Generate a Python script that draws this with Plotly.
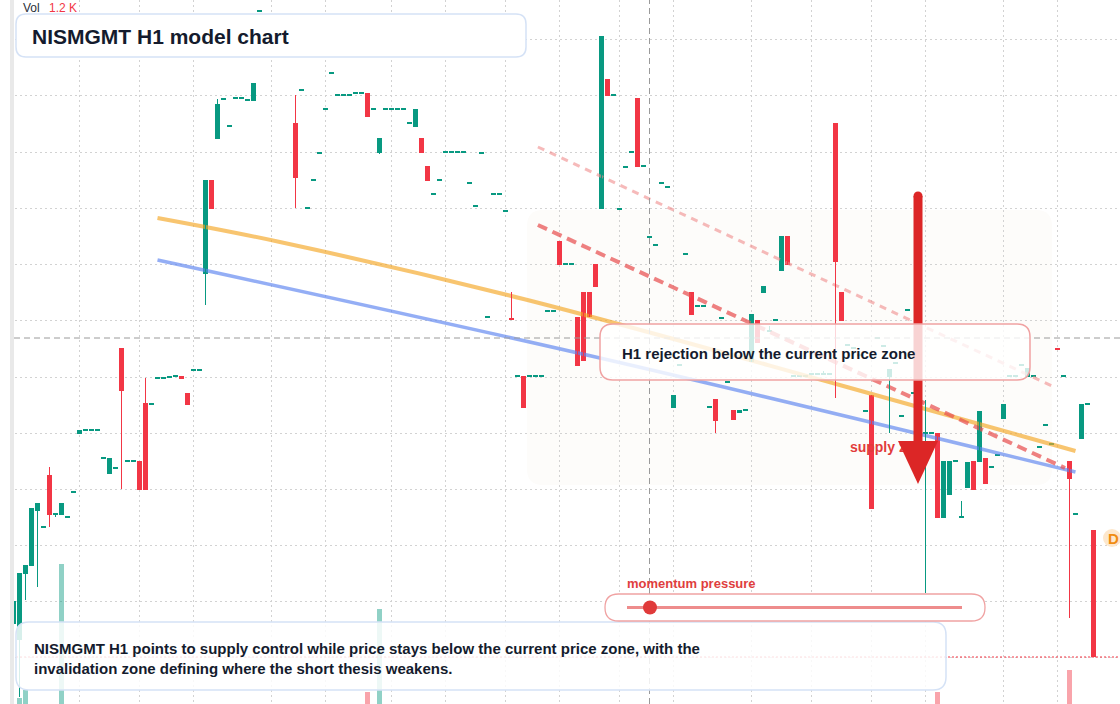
import plotly.graph_objects as go

W, H = 1120, 704

# ---------------- data (hourly candles, index = bar number) ----------------
opens = [
    20.80, 20.64, 21.30, 21.38, 21.93, 21.77, 22.29, 21.90, 21.89, 21.87,
    22.12, 22.70, 22.74, 22.74, 22.74, 22.46, 22.30, 22.36, 23.56, 22.43,
    22.43, 22.43, 23.01, 23.00, 23.26, 23.26, 23.27, 23.28, 23.28, 23.11,
    23.34, 23.34, 24.30, 25.24, 25.65, 26.05, 25.78, 26.06, 26.06, 26.04,
    26.03, 26.93, 26.72, 26.68, 26.62, 26.66, 26.60, 25.81, 26.14, 24.96,
    25.24, 25.51, 25.95, 26.31, 26.09, 26.09, 26.09, 26.11, 26.11, 26.11,
    25.95, 25.51, 25.95, 25.95, 25.95, 25.95, 25.81, 25.77, 25.66, 25.38,
    25.10, 25.24, 25.52, 25.52, 25.52, 25.52, 25.21, 24.98, 25.50, 23.87,
    25.10, 25.10, 24.93, 23.86, 23.28, 23.28, 23.28, 23.28, 23.28, 23.93,
    23.93, 24.63, 24.40, 24.40, 23.87, 24.12, 24.12, 24.40, 24.95, 26.25,
    26.09, 24.95, 25.37, 25.52, 26.06, 25.38, 24.67, 24.59, 25.21, 25.17,
    22.96, 23.39, 24.50, 24.12, 23.98, 23.98, 22.97, 23.05, 23.86, 23.22,
    22.94, 22.91, 22.94, 23.42, 23.84, 24.11, 23.73, 23.84, 24.33, 24.68,
    23.28, 23.28, 23.28, 23.30, 23.30, 23.30, 23.30, 25.81, 24.12, 23.59,
    23.56, 23.49, 22.93, 23.09, 23.66, 23.58, 23.27, 23.41, 22.88, 23.94,
    23.11, 22.84, 22.71, 22.71, 22.71, 21.86, 22.09, 22.43, 21.87, 22.16,
    22.43, 22.42, 22.46, 22.37, 22.49, 22.85, 23.28, 23.28, 23.39, 23.27,
    23.28, 22.57, 22.79, 22.60, 23.56, 23.28, 22.43, 21.90, 22.65, 23.00,
    21.74]

closes = [
    21.03, 21.31, 21.39, 21.96, 22.01, 21.77, 21.89, 21.90, 22.01, 21.87,
    22.12, 22.74, 22.74, 22.74, 22.74, 22.46, 22.46, 22.36, 23.13, 22.43,
    22.43, 22.14, 22.14, 23.00, 23.26, 23.26, 23.27, 23.28, 23.25, 22.99,
    23.34, 23.34, 25.24, 24.95, 26.00, 26.05, 25.78, 26.06, 26.06, 26.04,
    26.21, 26.93, 26.72, 26.68, 26.62, 26.66, 26.60, 25.26, 26.14, 24.96,
    25.24, 25.51, 25.95, 26.31, 26.09, 26.09, 26.09, 26.11, 26.11, 25.87,
    25.95, 25.66, 25.95, 25.95, 25.95, 25.95, 25.81, 25.95, 25.51, 25.23,
    25.10, 25.24, 25.52, 25.52, 25.52, 25.52, 25.21, 24.98, 25.52, 23.87,
    25.10, 25.10, 24.93, 23.84, 23.28, 22.96, 23.28, 23.28, 23.28, 23.93,
    23.93, 24.39, 24.40, 24.40, 23.38, 23.43, 23.87, 24.17, 26.68, 26.08,
    26.09, 24.95, 25.37, 25.52, 25.37, 25.38, 24.67, 24.59, 25.21, 25.17,
    23.09, 23.39, 24.50, 23.89, 23.98, 23.98, 22.97, 22.83, 23.86, 23.22,
    22.84, 22.94, 22.94, 23.90, 23.61, 24.18, 23.73, 23.84, 24.68, 24.39,
    23.28, 23.28, 23.28, 23.30, 23.30, 23.30, 23.30, 24.42, 23.83, 23.59,
    23.56, 23.49, 22.93, 21.95, 23.66, 23.58, 23.35, 23.41, 22.88, 23.94,
    23.11, 22.84, 22.71, 22.71, 21.86, 22.43, 22.43, 22.43, 21.87, 22.42,
    22.14, 22.93, 22.20, 22.37, 22.49, 23.00, 23.28, 23.28, 23.39, 23.36,
    23.28, 22.57, 22.79, 22.60, 23.54, 23.28, 22.25, 21.90, 23.00, 23.00,
    20.47]

highs = [
    21.03, 21.31, 21.39, 21.96, 22.01, 21.77, 22.37, 21.90, 22.01, 21.87,
    22.12, 22.74, 22.74, 22.74, 22.74, 22.46, 22.46, 22.36, 23.56, 22.43,
    22.43, 22.43, 23.26, 23.00, 23.26, 23.26, 23.27, 23.28, 23.28, 23.11,
    23.34, 23.34, 25.24, 25.24, 26.05, 26.05, 25.78, 26.06, 26.06, 26.04,
    26.21, 26.93, 26.72, 26.68, 26.62, 26.66, 26.60, 26.09, 26.14, 24.96,
    25.24, 25.51, 25.95, 26.31, 26.09, 26.09, 26.09, 26.11, 26.11, 26.11,
    25.95, 25.66, 25.95, 25.95, 25.95, 25.95, 25.81, 25.95, 25.66, 25.38,
    25.10, 25.24, 25.52, 25.52, 25.52, 25.52, 25.21, 24.98, 25.52, 23.87,
    25.10, 25.10, 24.93, 24.12, 23.28, 23.28, 23.28, 23.28, 23.28, 23.93,
    23.93, 24.63, 24.40, 24.40, 23.87, 24.12, 24.12, 24.40, 26.68, 26.25,
    26.09, 24.95, 25.37, 25.52, 26.06, 25.38, 24.67, 24.59, 25.21, 25.17,
    23.09, 23.39, 24.50, 24.12, 23.98, 23.98, 22.97, 23.05, 23.86, 23.22,
    22.94, 22.94, 22.94, 23.90, 23.84, 24.18, 23.78, 23.84, 24.68, 24.68,
    23.28, 23.28, 23.28, 23.30, 23.30, 23.33, 23.30, 25.81, 24.12, 23.59,
    23.56, 23.49, 22.93, 23.09, 23.66, 23.58, 23.35, 23.41, 22.88, 23.94,
    23.11, 22.84, 23.04, 22.71, 22.71, 22.43, 22.43, 22.43, 22.03, 22.42,
    22.43, 22.93, 22.46, 22.37, 22.49, 23.00, 23.28, 23.28, 23.39, 23.36,
    23.28, 22.57, 22.79, 22.60, 23.56, 23.28, 22.43, 21.90, 23.00, 23.00,
    21.74]

lows = [
    20.79, 20.07, 21.04, 21.38, 21.17, 21.77, 21.77, 21.87, 21.89, 21.87,
    22.12, 22.70, 22.74, 22.74, 22.74, 22.46, 22.30, 22.36, 22.15, 22.43,
    22.43, 22.14, 22.14, 23.00, 23.26, 23.26, 23.27, 23.28, 23.25, 22.99,
    23.34, 23.34, 23.99, 24.95, 25.65, 26.05, 25.78, 26.06, 26.06, 26.04,
    26.03, 26.93, 26.72, 26.68, 26.62, 26.66, 26.60, 24.96, 26.14, 24.96,
    25.24, 25.51, 25.95, 26.31, 26.09, 26.09, 26.09, 26.11, 26.11, 25.87,
    25.95, 25.50, 25.95, 25.95, 25.95, 25.95, 25.81, 25.77, 25.51, 25.23,
    25.10, 25.24, 25.52, 25.52, 25.52, 25.52, 25.21, 24.98, 25.50, 23.87,
    25.10, 25.10, 24.93, 23.84, 23.28, 22.96, 23.28, 23.28, 23.28, 23.93,
    23.93, 24.39, 24.40, 24.40, 23.38, 23.43, 23.87, 24.17, 24.95, 26.08,
    26.09, 24.95, 25.37, 25.52, 25.37, 25.38, 24.67, 24.59, 25.21, 25.17,
    22.96, 23.39, 24.50, 23.89, 23.98, 23.98, 22.97, 22.71, 23.86, 23.22,
    22.84, 22.91, 22.94, 23.42, 23.61, 24.11, 23.73, 23.84, 24.33, 24.39,
    23.28, 23.28, 23.28, 23.30, 23.30, 23.30, 23.30, 23.06, 23.83, 23.59,
    23.56, 23.49, 22.93, 21.95, 23.66, 23.58, 22.71, 23.41, 22.88, 23.94,
    23.11, 22.84, 21.11, 22.71, 21.86, 21.86, 22.09, 22.43, 21.87, 22.16,
    22.14, 22.42, 22.20, 22.37, 22.49, 22.85, 23.28, 23.28, 23.39, 23.27,
    23.28, 22.57, 22.79, 22.60, 23.54, 23.28, 20.86, 21.90, 22.65, 23.00,
    20.47]

volumes = [
    0, 170, 400, 0, 0, 0, 0, 0, 3980, 0,
    0, 0, 0, 0, 0, 0, 0, 0, 0, 0,
    0, 0, 0, 0, 0, 0, 0, 0, 0, 0,
    0, 0, 0, 0, 0, 0, 0, 0, 0, 0,
    0, 0, 0, 0, 0, 0, 0, 0, 0, 0,
    0, 0, 0, 0, 0, 0, 0, 0, 0, 340,
    0, 2700, 0, 0, 0, 0, 0, 0, 0, 0,
    0, 0, 0, 0, 0, 0, 0, 0, 0, 0,
    0, 0, 0, 0, 0, 0, 0, 0, 0, 0,
    0, 0, 0, 0, 0, 0, 0, 0, 0, 0,
    0, 0, 0, 0, 0, 0, 0, 0, 0, 0,
    0, 0, 0, 0, 0, 0, 0, 0, 0, 0,
    0, 0, 0, 0, 0, 0, 0, 0, 0, 0,
    0, 0, 0, 0, 0, 0, 0, 0, 0, 0,
    0, 0, 0, 0, 0, 0, 0, 0, 0, 0,
    0, 0, 0, 0, 340, 0, 0, 0, 0, 0,
    0, 0, 0, 0, 0, 0, 0, 0, 0, 0,
    0, 0, 0, 0, 0, 0, 970, 0, 0, 0,
    0]

# session (grid) boundaries and price grid levels
grid_x = [11, 21, 30, 43, 52, 63, 72, 82, 91, 101, 110, 123, 133, 143, 152, 165, 174]
grid_y = [26.65, 26.09, 25.52, 24.96, 24.40, 23.84, 23.27, 22.71, 22.15, 21.59, 21.03, 20.47]

# trend / model lines
orange_x = [24, 44.4, 85, 137.7, 177]
orange_y = [24.86, 24.62, 24.05, 23.19, 22.53]
blue_x = [24, 97.75, 177]
blue_y = [24.44, 23.46, 22.32]
res_x = [87.4, 175.25]
res_y = [24.79, 22.36]
res2_x = [87.4, 173.1]
res2_y = [25.57, 23.18]

cross_x = 106
cross_y = 23.66
arrow_x = 150.75
arrow_top, arrow_base, arrow_tip = 25.08, 22.63, 22.20
arrow_half = 3.33

GREEN = "#089981"
RED = "#f23645"
FONT = "Liberation Sans, Arial, sans-serif"

n = len(opens)
idx = list(range(n))

fig = go.Figure()

# volume (overlay, bottom part)
vol_colors = ["rgba(8,153,129,0.45)" if c >= o else "rgba(242,54,69,0.45)"
              for o, c in zip(opens, closes)]
fig.add_trace(go.Bar(x=idx, y=volumes, yaxis="y2", width=0.83,
                     marker=dict(color=vol_colors, line=dict(width=0)),
                     hoverinfo="skip", showlegend=False))

# model lines
fig.add_trace(go.Scatter(x=orange_x, y=orange_y, mode="lines",
                         line=dict(color="rgba(245,166,35,0.65)", width=4, shape="spline"),
                         hoverinfo="skip", showlegend=False))
fig.add_trace(go.Scatter(x=blue_x, y=blue_y, mode="lines",
                         line=dict(color="rgba(90,130,240,0.65)", width=3.5, shape="spline"),
                         hoverinfo="skip", showlegend=False))
fig.add_trace(go.Scatter(x=res2_x, y=res2_y, mode="lines",
                         line=dict(color="rgba(240,140,140,0.6)", width=3, dash="7px,6px"),
                         hoverinfo="skip", showlegend=False))
fig.add_trace(go.Scatter(x=res_x, y=res_y, mode="lines",
                         line=dict(color="rgba(232,80,80,0.72)", width=4, dash="10px,6px"),
                         hoverinfo="skip", showlegend=False))

# wicks
for col, up in ((GREEN, True), (RED, False)):
    wx, wy = [], []
    for i, (o, h, l, c) in enumerate(zip(opens, highs, lows, closes)):
        if (c >= o) == up and h - l > 0.001:
            wx += [i, i, None]
            wy += [l, h, None]
    fig.add_trace(go.Scatter(x=wx, y=wy, mode="lines", line=dict(color=col, width=1),
                             hoverinfo="skip", showlegend=False))

# bodies
minh = 0.015
base, height, colors = [], [], []
for o, c in zip(opens, closes):
    lo, hi = min(o, c), max(o, c)
    if hi - lo < minh:
        mid = (hi + lo) / 2
        lo, hi = mid - minh / 2, mid + minh / 2
    base.append(lo)
    height.append(hi - lo)
    colors.append(GREEN if c >= o else RED)
fig.add_trace(go.Bar(x=idx, y=height, base=base, width=0.83,
                     marker=dict(color=colors, line=dict(width=0)),
                     hoverinfo="skip", showlegend=False))

# "supply zone" label (kept below the arrow shape)
fig.add_trace(go.Scatter(x=[139.4], y=[22.56], mode="text", text=["<b>supply zone</b>"],
                         textposition="middle right",
                         textfont=dict(family=FONT, size=14, color="#e23b3b"),
                         hoverinfo="skip", showlegend=False))


def X(px):
    return px / W


def Y(py):
    return 1 - py / H


def rr(x0, y0, x1, y1, r):
    f = lambda v: f"{v:.5f}"
    return (f"M{f(X(x0 + r))},{f(Y(y0))} L{f(X(x1 - r))},{f(Y(y0))} "
            f"Q{f(X(x1))},{f(Y(y0))} {f(X(x1))},{f(Y(y0 + r))} "
            f"L{f(X(x1))},{f(Y(y1 - r))} Q{f(X(x1))},{f(Y(y1))} {f(X(x1 - r))},{f(Y(y1))} "
            f"L{f(X(x0 + r))},{f(Y(y1))} Q{f(X(x0))},{f(Y(y1))} {f(X(x0))},{f(Y(y1 - r))} "
            f"L{f(X(x0))},{f(Y(y0 + r))} Q{f(X(x0))},{f(Y(y0))} {f(X(x0 + r))},{f(Y(y0))} Z")


shapes = [
    dict(type="path", xref="paper", yref="paper", path=rr(527, 210, 1052, 485, 16),
         fillcolor="#fdfcfa", line=dict(width=0), layer="below"),
    dict(type="line", xref="x", yref="paper", x0=cross_x, x1=cross_x, y0=0, y1=1,
         line=dict(color="#9a9a9a", width=1, dash="6px,4px"), layer="above"),
    dict(type="line", xref="paper", yref="y", x0=X(14), x1=1, y0=cross_y, y1=cross_y,
         line=dict(color="#9a9a9a", width=1, dash="6px,4px"), layer="above"),
    dict(type="line", xref="paper", yref="y", x0=0, x1=1, y0=closes[-1], y1=closes[-1],
         line=dict(color=RED, width=1, dash="2px,2px"), layer="above"),
    dict(type="line", xref="x", yref="y", x0=arrow_x, x1=arrow_x, y0=arrow_top, y1=arrow_base,
         line=dict(color="#dc2626", width=9), layer="above"),
    dict(type="circle", xref="paper", yref="paper", x0=X(913.5), x1=X(922.5), y0=Y(191.5), y1=Y(200.5),
         fillcolor="#dc2626", line=dict(width=0), layer="above"),
    dict(type="path", xref="x", yref="y",
         path=f"M{arrow_x - arrow_half},{arrow_base} L{arrow_x + arrow_half},{arrow_base} L{arrow_x},{arrow_tip} Z",
         fillcolor="#dc2626", line=dict(width=0), layer="above"),
    dict(type="path", xref="paper", yref="paper", path=rr(600, 324, 1030, 380, 13),
         fillcolor="rgba(255,255,255,0.8)", line=dict(color="#f0a2a2", width=1.5), layer="above"),
    dict(type="path", xref="paper", yref="paper", path=rr(16, 622, 946, 690, 13),
         fillcolor="rgba(255,255,255,0.84)", line=dict(color="#d5e2f6", width=1.5), layer="above"),
    dict(type="path", xref="paper", yref="paper", path=rr(605, 594, 985, 621, 13.5),
         fillcolor="white", line=dict(color="#f0a2a2", width=1.3), layer="above"),
    dict(type="line", xref="paper", yref="paper", x0=X(627), x1=X(962), y0=Y(607.5), y1=Y(607.5),
         line=dict(color="#ee8c8c", width=3), layer="above"),
    dict(type="circle", xref="paper", yref="paper", x0=X(643), x1=X(657), y0=Y(600.5), y1=Y(614.5),
         fillcolor="#e03a3a", line=dict(width=0), layer="above"),
    dict(type="path", xref="paper", yref="paper", path=rr(16, 14, 526, 57, 10),
         fillcolor="white", line=dict(color="#d5e2f6", width=1.5), layer="above"),
    dict(type="rect", xref="paper", yref="paper", x0=0, x1=X(10), y0=0, y1=1,
         fillcolor="white", line=dict(width=0), layer="above"),
    dict(type="rect", xref="paper", yref="paper", x0=X(10), x1=X(14), y0=0, y1=1,
         fillcolor="#e9e9e9", line=dict(width=0), layer="above"),
    dict(type="circle", xref="paper", yref="paper", x0=X(1103), x1=X(1121), y0=Y(529), y1=Y(547),
         fillcolor="#fde7cc", line=dict(width=0), layer="above"),
]


def ann(px, py, text, size, color, anchor="left"):
    return dict(xref="paper", yref="paper", x=X(px), y=Y(py), text=text, showarrow=False,
                xanchor=anchor, yanchor="middle", font=dict(family=FONT, size=size, color=color),
                borderpad=0)


DARK = "#141b2d"
annotations = [
    ann(22, 8, "Vol", 12, "#2a2e39"),
    ann(48, 8, "1.2 K", 12, RED),
    ann(31, 36, "<b>NISMGMT H1 model chart</b>", 21, DARK),
    ann(621, 353, "<b>H1 rejection below the current price zone</b>", 15, DARK),
    ann(33, 648, "<b>NISMGMT H1 points to supply control while price stays below the current price zone, with the</b>", 15, DARK),
    ann(33, 668, "<b>invalidation zone defining where the short thesis weakens.</b>", 15, DARK),
    ann(626, 583, "<b>momentum pressure</b>", 13, "#e03e3e"),
    ann(1113, 538, "<b>D</b>", 15, "#f08c12", anchor="center"),
]

fig.update_layout(
    width=W, height=H,
    margin=dict(l=0, r=0, t=0, b=0),
    paper_bgcolor="white", plot_bgcolor="white",
    barmode="overlay", bargap=0,
    showlegend=False,
    xaxis=dict(range=[-2.25, 184.4167], tickvals=grid_x, showticklabels=False, ticks="",
               showgrid=True, gridcolor="#d2d2d2", griddash="2px,3px", gridwidth=1,
               zeroline=False, showline=False, fixedrange=True),
    yaxis=dict(range=[20.00, 27.04], tickvals=grid_y, showticklabels=False, ticks="",
               showgrid=True, gridcolor="#d2d2d2", griddash="2px,3px", gridwidth=1,
               zeroline=False, showline=False, fixedrange=True),
    yaxis2=dict(range=[0, 20000], overlaying="y", visible=False, showgrid=False,
                zeroline=False, fixedrange=True),
    shapes=shapes,
    annotations=annotations,
)

fig.write_html("out.html", config={"displayModeBar": False})
